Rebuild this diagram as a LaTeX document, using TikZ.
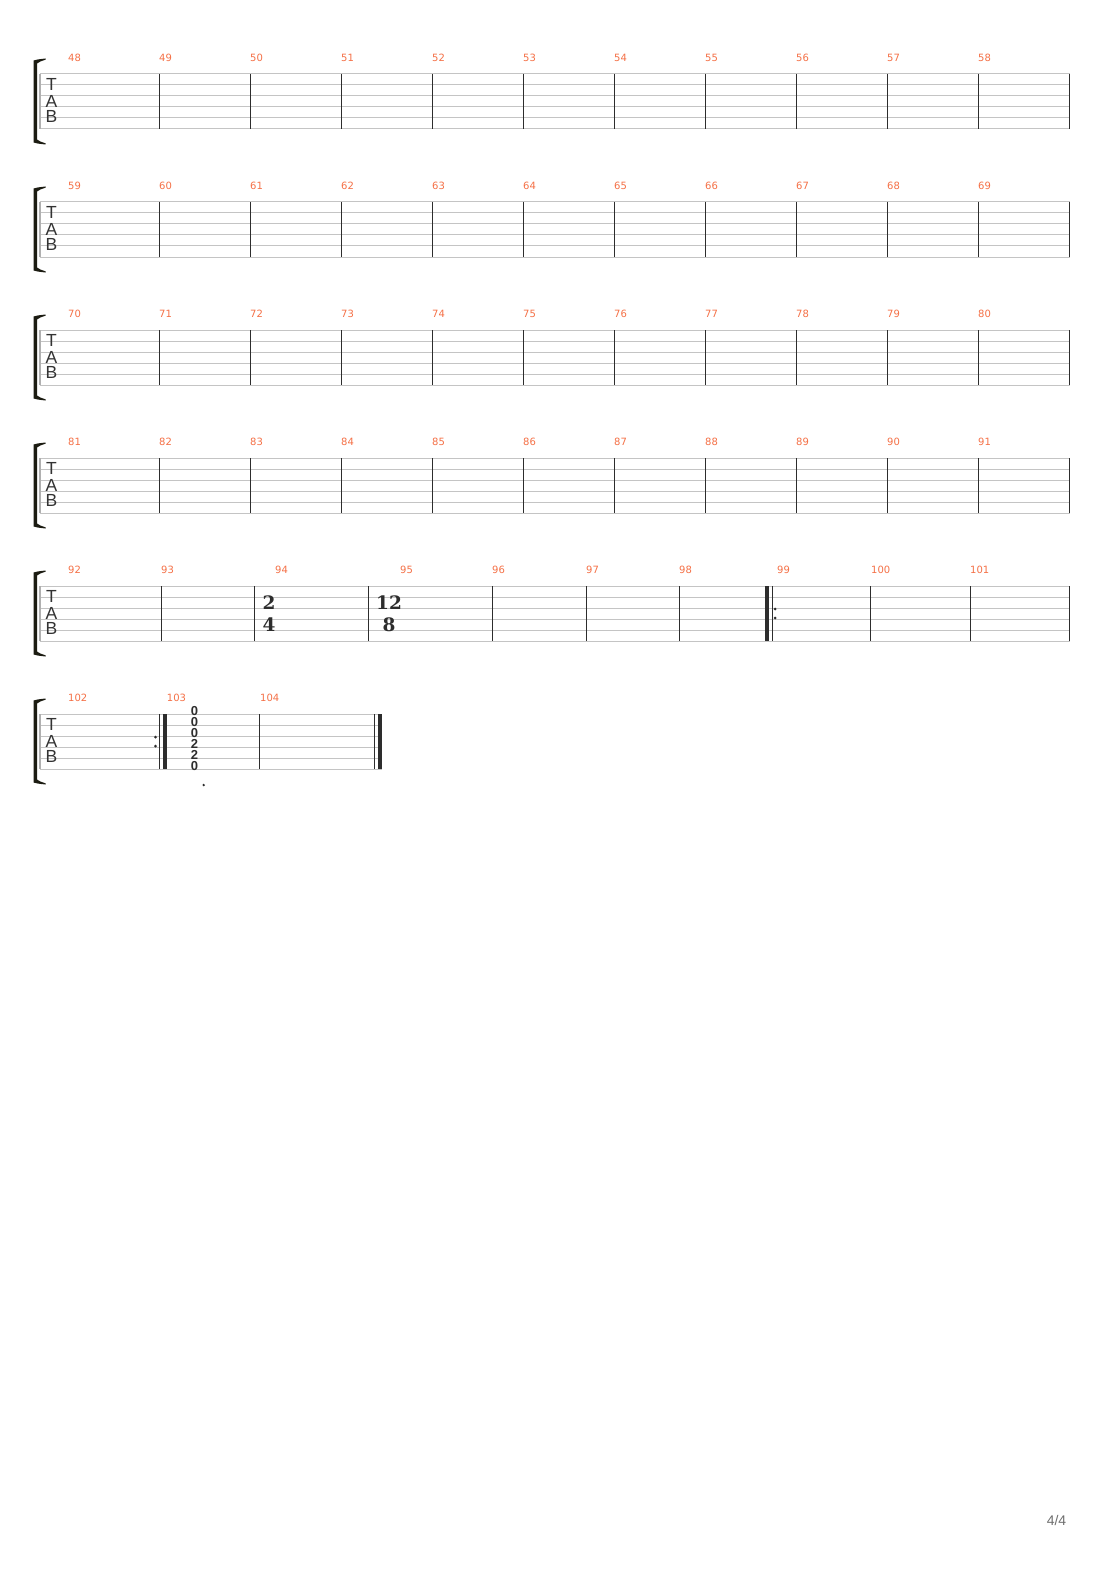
\documentclass[tikz,border=0pt]{standalone}
\usepackage{fontspec}
\newfontfamily\numfont{DejaVu Sans}
\newfontfamily\tabfont{Liberation Sans}
\newfontfamily\sigfont{DejaVu Serif}

\definecolor{barnum}{RGB}{245,112,70}
\definecolor{staffgray}{RGB}{196,196,196}
\definecolor{bardark}{RGB}{45,45,45}
\definecolor{brackc}{RGB}{28,28,18}
\definecolor{pagegray}{RGB}{110,110,110}

\tikzset{
  staffline/.style={draw=staffgray,line width=1pt},
  staffleft/.style={draw=staffgray!90!black,line width=1.6pt},
  barline/.style={draw=bardark,line width=1pt},
  thickbar/.style={draw=bardark,line width=4pt},
  barnumber/.style={text=barnum,font=\numfont\fontsize{10}{10}\selectfont,anchor=west,inner sep=0pt},
  tabletter/.style={text=black!80,font=\tabfont\fontsize{17.5}{17.5}\selectfont,inner sep=0pt},
  timesig/.style={text=bardark,font=\sigfont\bfseries\fontsize{18.5}{18.5}\selectfont,inner sep=0pt},
  fret/.style={text=bardark,font=\tabfont\bfseries\fontsize{13}{13}\selectfont,inner sep=0pt},
  repdot/.style={fill=bardark},
}

% staff of six lines with bracket and TAB clef, drawn at the current origin
\newcommand\tabstaff[2]{%
  \foreach \s in {0,...,5} \draw[staffline] (40,11*\s) -- (#2,11*\s);
  \draw[staffleft] (40,0) -- (40,55);
  \fill[brackc] (33.5,-13.5) -- (33.5,68.5) .. controls (37,69.5) .. (45.5,70.5)
    -- (45.5,69.3) .. controls (40,67.5) .. (37,65.5) -- (37,-10.5)
    .. controls (40,-12.5) .. (45.5,-14.3) -- (45.5,-15.5)
    .. controls (37,-14.5) .. (33.5,-13.5) -- cycle;
  \node[tabletter] (#1T) at (51.5,10) {T};
  \node[tabletter] (#1A) at (51.5,27) {A};
  \node[tabletter] (#1B) at (51.5,42.5) {B};
}

\begin{document}
\begin{tikzpicture}[x=1pt,y=-1pt]
\useasboundingbox[fill=white] (0,0) rectangle (1110,1570);

% systems 1 to 4
\foreach \row/\first in {0/48,1/59,2/70,3/81}{
  \begin{scope}[shift={(0,{74+128*\row})}]
    \tabstaff{s\row}{1070}
    \foreach \k in {0,...,10} \draw[barline] ({159+91*\k},0) -- ({159+91*\k},55);
    \node[barnumber] (m\first) at (68,-16.5) {\first};
    \foreach \k in {0,...,9}{
      \pgfmathtruncatemacro\n{\first+\k+1}
      \node[barnumber] (m\n) at ({159+91*\k},-16.5) {\n};
    }
  \end{scope}
}

% system 5
\begin{scope}[shift={(0,586)}]
  \tabstaff{s4}{1070}
  \foreach \x in {161,254,368,492,586,679,772,870,970,1069}
    \draw[barline] (\x,0) -- (\x,55);
  \draw[thickbar] (767,0) -- (767,55);
  \fill[repdot] (775,23) circle (1.5);
  \fill[repdot] (775,32) circle (1.5);
  \foreach \x/\n in {68/92,161/93,275/94,400/95,492/96,586/97,679/98,777/99,871/100,970/101}
    \node[barnumber] (m\n) at (\x,-16.5) {\n};
  \node[timesig] (ts94a) at (269,17) {2};
  \node[timesig] (ts94b) at (269,38.5) {4};
  \node[timesig] (ts95a) at (389,17) {12};
  \node[timesig] (ts95b) at (389,38.5) {8};
\end{scope}

% system 6
\begin{scope}[shift={(0,714)}]
  \tabstaff{s5}{381.7}
  \foreach \x in {159.3,259.3,374.3}
    \draw[barline] (\x,0) -- (\x,55);
  \draw[thickbar] (164.7,0) -- (164.7,55);
  \draw[thickbar] (379.7,0) -- (379.7,55);
  \fill[repdot] (155.5,23) circle (1.5);
  \fill[repdot] (155.5,32) circle (1.5);
  \foreach \x/\n in {68/102,166.7/103,260/104}
    \node[barnumber] (m\n) at (\x,-16.5) {\n};
  \foreach \s/\f in {0/0,1/0,2/0,3/2,4/2,5/0}
    \node[fret] (f\s) at (194.5,{11*\s-3}) {\f};
  \fill[repdot] (203.7,71) circle (1.3);
\end{scope}

\node[text=pagegray,font=\tabfont\fontsize{14}{14}\selectfont] (page) at (1056.5,1520.5) {4/4};
\end{tikzpicture}
\end{document}
